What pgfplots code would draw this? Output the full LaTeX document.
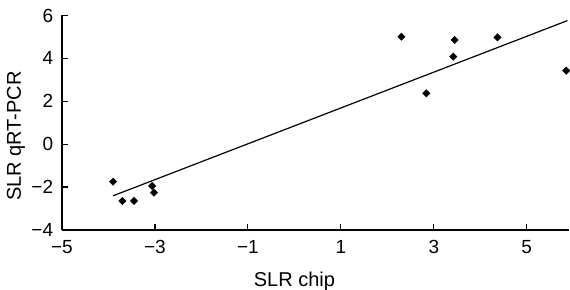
\documentclass[border=0pt]{standalone}
\usepackage{pgfplots}
\pgfplotsset{compat=1.18}
\usepackage{fontspec}
\setmainfont{Liberation Sans}
\begin{document}
\begin{tikzpicture}
\begin{axis}[
  name=ax,
  scale only axis,
  width=507pt, height=214.5pt,
  xmin=-5, xmax=5.903,
  ymin=-4, ymax=6,
  axis x line*=bottom, axis y line*=left,
  axis line style={line width=1.4pt},
  xtick={-5,-3,-1,1,3,5},
  xticklabels={−5,−3,−1,1,3,5},
  ytick={-4,-2,0,2,4,6},
  yticklabels={−4,−2,0,2,4,6},
  tick align=inside,
  major tick length=6pt,
  tick style={line width=1.2pt, black},
  tick label style={font=\fontsize{19}{21}\selectfont, inner sep=0pt},
  xticklabel style={anchor=base, yshift=-23.3pt},
  yticklabel style={anchor=east, xshift=-8.7pt},
  label style={font=\fontsize{20}{22}\selectfont},
  xlabel={SLR chip},
  ylabel={SLR qRT-PCR},
  xlabel style={at={(axis description cs:0.4587,0)}, anchor=base, yshift=-56.7pt},
  ylabel style={at={([xshift=-41pt]axis description cs:0,0.438)}, anchor=base},
  clip=false,
]
\addplot[only marks, mark=square*, mark options={rotate=45}, mark size=2.6pt, black] coordinates {
  (-3.90,-1.75) (-3.70,-2.65) (-3.45,-2.65) (-3.06,-1.95) (-3.02,-2.26)
  (2.305,5.01) (2.84,2.37) (3.42,4.08) (3.45,4.86) (4.37,4.98) (5.85,3.43)
};
\addplot[black, line width=1.2pt] coordinates {(-3.90,-2.41) (5.875,5.76)};
\end{axis}
\pgfresetboundingbox
\path (ax.south west) ++(-62pt,-60pt) rectangle ([shift={(1.3pt,15.5pt)}]ax.north east);
\end{tikzpicture}
\end{document}
